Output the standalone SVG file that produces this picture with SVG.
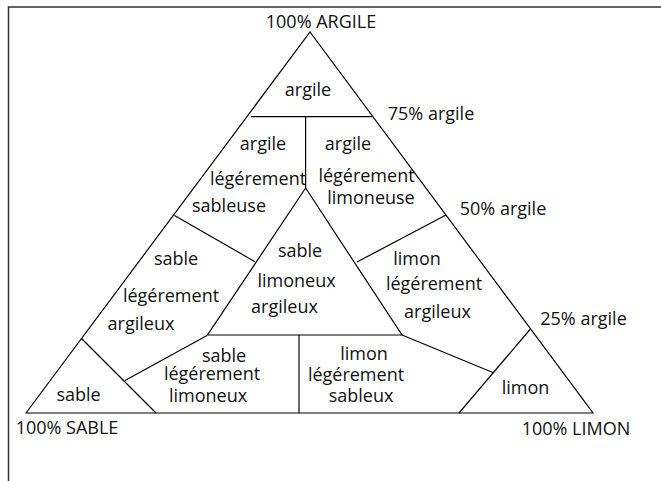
<svg xmlns="http://www.w3.org/2000/svg" width="661" height="481" viewBox="0 0 661 481">
<style>
.ln{stroke:#000;stroke-width:1.2;fill:none}
.fr{stroke:#333;stroke-width:1.5;fill:none}
text{font-family:"Open Sans","Liberation Sans",sans-serif;font-size:18px;fill:#111;text-anchor:middle}
</style>
<rect width="661" height="481" fill="#fff"/>
<path class="fr" d="M8.5,481 V7 H661"/>
<g id="connectors">
<path class="ln" d="M26,413 L310,32 L593,413 Z"/>
<path class="ln" d="M251,116.7 H372"/>
<path class="ln" d="M305.6,116.7 V188"/>
<path class="ln" d="M305.6,188 L207.5,335 H402 Z"/>
<path class="ln" d="M174.5,215.5 L255,261.7"/>
<path class="ln" d="M446,215 L357,262"/>
<path class="ln" d="M299,335 V413"/>
<path class="ln" d="M81.5,338.5 L156,413"/>
<path class="ln" d="M125,380.5 L207,335.5"/>
<path class="ln" d="M402,335 L494,373"/>
<path class="ln" d="M530,329.5 L459,413"/>
</g>
<g id="corner-argile"><text x="321" y="28">100% ARGILE</text></g>
<g id="corner-sable"><text x="67" y="433.5">100% SABLE</text></g>
<g id="corner-limon"><text x="576" y="435">100% LIMON</text></g>
<g id="tick-75"><text x="431" y="120">75% argile</text></g>
<g id="tick-50"><text x="503" y="215">50% argile</text></g>
<g id="tick-25"><text x="583.5" y="325">25% argile</text></g>
<g id="argile"><text x="308" y="96">argile</text></g>
<g id="argile-sableuse"><text x="263" y="149.5">argile</text><text x="258" y="185">légérement</text><text x="229" y="211.5">sableuse</text></g>
<g id="argile-limoneuse"><text x="348" y="150">argile</text><text x="366.5" y="181.5">légérement</text><text x="371" y="204">limoneuse</text></g>
<g id="sable-argileux"><text x="176" y="265">sable</text><text x="171" y="301.5">légérement</text><text x="141" y="330">argileux</text></g>
<g id="sable-limoneux-argileux"><text x="300" y="256.5">sable</text><text x="296.5" y="287">limoneux</text><text x="284.5" y="313">argileux</text></g>
<g id="limon-argileux"><text x="417" y="265">limon</text><text x="434" y="290">légérement</text><text x="437.5" y="318">argileux</text></g>
<g id="sable"><text x="78.5" y="401">sable</text></g>
<g id="sable-limoneux"><text x="224" y="362">sable</text><text x="212" y="380">légérement</text><text x="208" y="401.5">limoneux</text></g>
<g id="limon-sableux"><text x="364" y="359.5">limon</text><text x="356" y="381">légérement</text><text x="361" y="402">sableux</text></g>
<g id="limon"><text x="525.5" y="394">limon</text></g>
</svg>
